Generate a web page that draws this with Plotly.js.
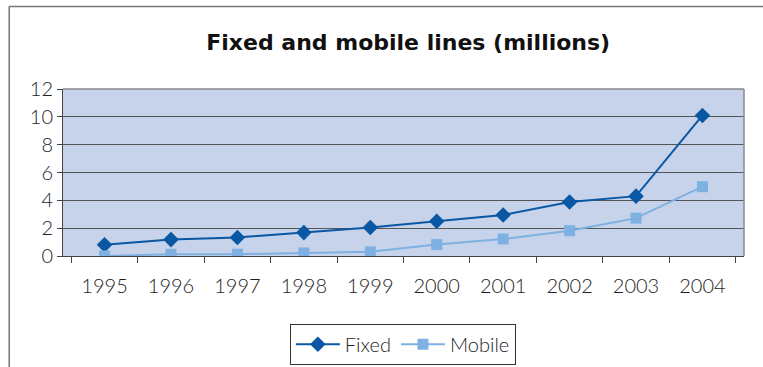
<!DOCTYPE html>
<html><head><meta charset="utf-8">
<script src="https://cdn.plot.ly/plotly-3.0.1.min.js"></script>
<style>body{margin:0;background:#fff}#chart{width:763px;height:367px}</style>
</head><body><div id="chart"></div>
<script>
const years = ['1995','1996','1997','1998','1999','2000','2001','2002','2003','2004'];
const fixed = [0.8, 1.18, 1.33, 1.68, 2.05, 2.5, 2.95, 3.88, 4.3, 10.1];
const mobile = [0.0, 0.12, 0.13, 0.22, 0.3, 0.82, 1.22, 1.82, 2.72, 4.98];
const yTicks = [0, 2, 4, 6, 8, 10, 12];

const traces = [
  {x: years, y: fixed, name: 'Fixed', type: 'scatter', mode: 'lines+markers',
   line: {color: '#0a57a3', width: 2}, marker: {symbol: 'diamond', size: 12, color: '#0a57a3'}},
  {x: years, y: mobile, name: 'Mobile', type: 'scatter', mode: 'lines+markers',
   line: {color: '#7eb1e1', width: 2}, marker: {symbol: 'square', size: 11, color: '#7eb1e1'}}
];

const layout = {
  width: 763, height: 367,
  margin: {l: 63, r: 19, t: 89, b: 111, autoexpand: false},
  paper_bgcolor: '#ffffff', plot_bgcolor: '#c6d3ea',
  title: {text: 'Fixed and mobile lines (millions)', x: 0.535, xanchor: 'center', y: 0.886, yanchor: 'middle',
          font: {family: 'DejaVu Sans', size: 22, color: '#111', weight: 'bold'}},
  font: {family: 'Lato', color: '#1e1e1e', weight: 300},
  xaxis: {type: 'category', tickson: 'boundaries', ticks: 'outside', ticklen: 6, tickcolor: '#444',
          showgrid: false, showline: true, linecolor: '#444', linewidth: 1, ticklabelstandoff: 12,
          tickfont: {size: 20, color: '#1e1e1e', weight: 300}, fixedrange: true},
  yaxis: {range: [0, 12], tickvals: yTicks, ticks: 'outside', ticklen: 5, tickcolor: '#444',
          showgrid: true, gridcolor: '#555', gridwidth: 1, showline: true, linecolor: '#444', linewidth: 1,
          zeroline: false, tickfont: {size: 20, color: '#1e1e1e', weight: 300}, fixedrange: true},
  showlegend: true,
  legend: {orientation: 'h', x: 0.528, xanchor: 'center', xref: 'container', y: 0.118, yanchor: 'top', yref: 'container',
           itemwidth: 44, bordercolor: '#333', borderwidth: 1, font: {size: 20, color: '#1e1e1e', weight: 300}, bgcolor: '#fff'},
  shapes: [
    {type: 'line', xref: 'paper', yref: 'paper', x0: 0, x1: 1, y0: 1, y1: 1, line: {color: '#8a8a8a', width: 1.5}},
    {type: 'line', xref: 'paper', yref: 'paper', x0: 1, x1: 1, y0: 0, y1: 1, line: {color: '#8a8a8a', width: 1.5}},
    {type: 'line', xref: 'paper', yref: 'paper', x0: -0.079, x1: 1.03, y0: 1.494, y1: 1.494, line: {color: '#777', width: 1.5}},
    {type: 'line', xref: 'paper', yref: 'paper', x0: -0.079, x1: -0.079, y0: 1.494, y1: -0.7, line: {color: '#777', width: 1.5}}
  ]
};
Plotly.newPlot('chart', traces, layout, {displayModeBar: false, staticPlot: true});
</script></body></html>
